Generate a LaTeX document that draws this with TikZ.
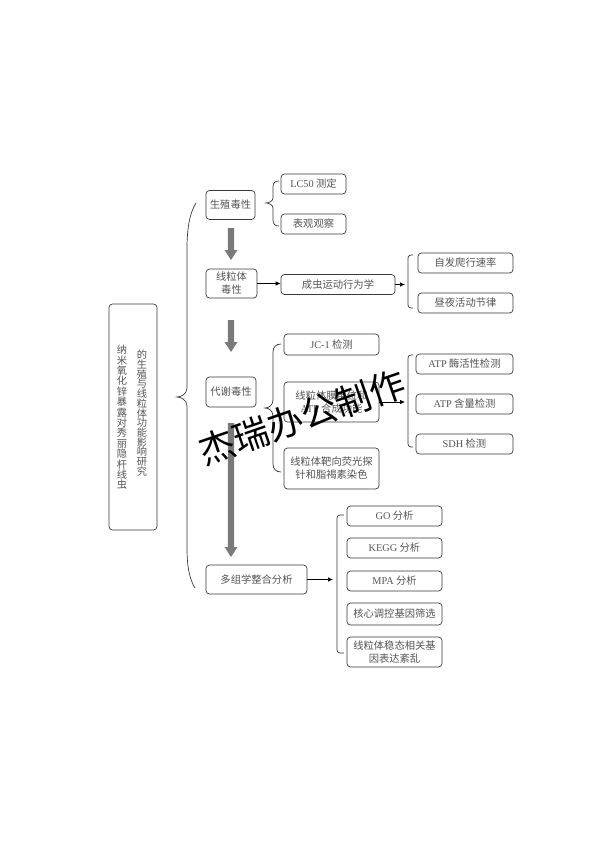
\documentclass[tikz,border=0pt]{standalone}
\usepackage{fontspec}
\setmainfont{Liberation Serif}
\newfontfamily\cjk{Noto Sans CJK SC}
\newcommand\lat[1]{{\rmfamily #1}}
\usetikzlibrary{arrows.meta}
\definecolor{boxc}{HTML}{3A3A3A}
\definecolor{txtc}{HTML}{555555}
\definecolor{arrc}{HTML}{7A7A7A}
\newcommand\garrow[3]{%
  \fill[arrc] (#1-3.2,#2) -- (#1+3.2,#2) -- (#1+3.2,#3-10) -- (#1+6.5,#3-10) -- (#1,#3) -- (#1-6.5,#3-10) -- (#1-3.2,#3-10) -- cycle;}
\begin{document}
\begin{tikzpicture}[x=1pt,y=-1pt,
  bx/.style={draw=boxc, line width=0.7pt, rounded corners=3.5pt, text=txtc,
    font=\cjk\fontsize{10.3}{13}\selectfont, align=center, inner sep=0pt},
  brk/.style={draw=boxc, line width=0.7pt, rounded corners=3pt},
  brc/.style={draw=boxc, line width=0.7pt},
  thinarr/.style={draw=black, line width=0.7pt, -{Latex[length=5pt,width=4.5pt]}}]
\useasboundingbox (0,0) rectangle (594,841);
\fill[white] (0,0) rectangle (594,841);

% title
\node[bx, minimum width=48pt, minimum height=226pt] (title) at (133,417) {};
\node[text=txtc, font=\cjk\fontsize{10.2}{10.4}\selectfont, align=center, inner sep=0pt, anchor=north] (tl) at (122,345)
 {纳\\米\\氧\\化\\锌\\暴\\露\\对\\秀\\丽\\隐\\杆\\线\\虫};
\node[text=txtc, font=\cjk\fontsize{10.2}{9.7}\selectfont, align=center, inner sep=0pt, anchor=north] (tr) at (142,350)
 {的\\生\\殖\\与\\线\\粒\\体\\功\\能\\影\\响\\研\\究};

% big brace
\draw[brc] (196,203) .. controls (190,212) and (187,228) .. (187,248) -- (187,388)
  .. controls (187,394) and (181,397) .. (177,397)
  .. controls (181,397) and (187,400) .. (187,406) -- (187,548)
  .. controls (187,568) and (190,580) .. (195,588);

% level 1
\node[bx, minimum width=49pt, minimum height=29pt] (s1) at (230.5,205) {生殖毒性};
\node[bx, minimum width=65pt, minimum height=20pt] (lc) at (313.5,184) {\lat{LC50} 测定};
\node[bx, minimum width=65pt, minimum height=20pt] (bg) at (313.5,224) {表观观察};
\draw[brc] (279,181) .. controls (275,181) and (273,183) .. (273,187) -- (273,198)
  .. controls (273,201) and (269,203) .. (266,203)
  .. controls (269,203) and (273,205) .. (273,208) -- (273,220)
  .. controls (273,224) and (275,226) .. (279,226);
\garrow{231}{228}{260}

\node[bx, minimum width=51pt, minimum height=29pt] (s2) at (231.5,283.5) {线粒体\\毒性};
\node[bx, minimum width=114pt, minimum height=20pt] (beh) at (338,284.5) {成虫运动行为学};
\draw[thinarr] (s2.east) -- (s2.east -| beh.west);
\coordinate (b1t) at (405,284);
\draw[thinarr] (beh.east) -- (beh.east -| b1t);
\draw[brk] (413,255) -- (408,255) -- (408,308) -- (413,308);
\node[bx, minimum width=95pt, minimum height=20pt] (c1) at (465.5,263) {自发爬行速率};
\node[bx, minimum width=95pt, minimum height=20pt] (c2) at (465.5,303) {昼夜活动节律};
\garrow{231}{320}{352}

\node[bx, minimum width=50pt, minimum height=30pt] (s3) at (231,392) {代谢毒性};
\draw[brc] (281,344) .. controls (276,344) and (273,347) .. (273,352) -- (273,400)
  .. controls (273,405) and (269,408) .. (265,408)
  .. controls (269,408) and (273,411) .. (273,416) -- (273,464)
  .. controls (273,469) and (276,472) .. (281,472);
\node[bx, minimum width=95pt, minimum height=21pt] (jc) at (331.5,344.5) {\lat{JC-1} 检测};
\node[bx, minimum width=95pt, minimum height=40pt] (atpb) at (331.5,402) {线粒体膜电位和\\\lat{ATP} 合成功能};
\node[bx, minimum width=95pt, minimum height=41pt] (probe) at (331.5,468.5) {线粒体靶向荧光探\\针和脂褐素染色};
\coordinate (b2t) at (405,402);
\draw[thinarr] (atpb.east) -- (atpb.east -| b2t);
\draw[brk] (413,355) -- (408,355) -- (408,447) -- (413,447);
\node[bx, minimum width=97pt, minimum height=20pt] (a1) at (464.5,364) {\lat{ATP} 酶活性检测};
\node[bx, minimum width=97pt, minimum height=20pt] (a2) at (464.5,404) {\lat{ATP} 含量检测};
\node[bx, minimum width=97pt, minimum height=20pt] (a3) at (464.5,444) {\lat{SDH} 检测};
\garrow{231}{423}{557}

\node[bx, minimum width=101pt, minimum height=29pt] (s4) at (256.5,579.5) {多组学整合分析};
\coordinate (b3t) at (333,580);
\draw[thinarr] (s4.east) -- (s4.east -| b3t);
\draw[brk] (344,515) -- (337,515) -- (337,653) -- (344,653);
\node[bx, minimum width=95pt, minimum height=20pt] (g1) at (394.5,516) {\lat{GO} 分析};
\node[bx, minimum width=95pt, minimum height=20pt] (g2) at (394.5,548) {\lat{KEGG} 分析};
\node[bx, minimum width=95pt, minimum height=20pt] (g3) at (394.5,581) {\lat{MPA} 分析};
\node[bx, minimum width=95pt, minimum height=22pt] (g4) at (394.5,614) {核心调控基因筛选};
\node[bx, minimum width=95pt, minimum height=30pt] (g5) at (394.5,652) {线粒体稳态相关基\\因表达紊乱};

% watermark
\node[rotate=19, font=\cjk\fontsize{36}{36}\selectfont, text=black, inner sep=0pt] (wm) at (302,417) {杰瑞办公制作};
\end{tikzpicture}
\end{document}
